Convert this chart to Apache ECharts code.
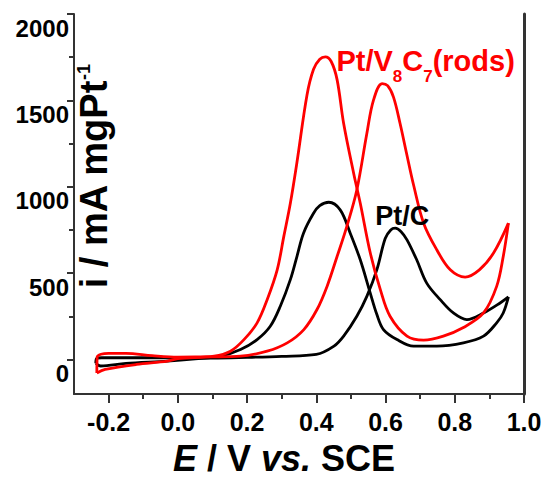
<!DOCTYPE html>
<html>
<head>
<meta charset="utf-8">
<script src="https://cdn.jsdelivr.net/npm/echarts@6/dist/echarts.min.js"></script>
<style>
	html, body { margin: 0; padding: 0; background: #fff; }
	#chart { width: 544px; height: 478px; }
</style>
</head>
<body>
<div id="chart"></div>
<script>
// axis ticks
const potentialTicks = [ -0.2, 0, 0.2, 0.4, 0.6, 0.8, 1.0 ];
const potentialMinorTicks = [ -0.1, 0.1, 0.3, 0.5, 0.7, 0.9 ];
const currentTicks = [ 0, 500, 1000, 1500, 2000 ];
const currentMinorTicks = [ 250, 750, 1250, 1750 ];

// Pt/V8C7(rods), forward scan (E / V, i / mA mgPt-1)
const ptV8C7Forward = [
	[ -0.234, -78 ], [ -0.233, 15 ], [ -0.222, 30 ], [ -0.2, 35 ], [ -0.15, 35 ],
	[ -0.074, 22 ], [ 0.0, 14 ], [ 0.1, 15 ], [ 0.181, 19 ], [ 0.258, 48 ],
	[ 0.316, 96 ], [ 0.364, 173 ], [ 0.402, 289 ], [ 0.431, 423 ], [ 0.46, 596 ],
	[ 0.488, 769 ], [ 0.517, 981 ], [ 0.546, 1308 ], [ 0.565, 1500 ], [ 0.59, 1597 ],
	[ 0.606, 1585 ], [ 0.623, 1519 ], [ 0.642, 1366 ], [ 0.66, 1200 ], [ 0.681, 1010 ],
	[ 0.71, 789 ], [ 0.748, 635 ], [ 0.787, 519 ], [ 0.83, 477 ], [ 0.871, 519 ],
	[ 0.912, 616 ], [ 0.955, 789 ]
];
// Pt/V8C7(rods), backward scan
const ptV8C7Backward = [
	[ 0.955, 789 ], [ 0.94, 596 ], [ 0.921, 423 ], [ 0.883, 269 ], [ 0.825, 185 ],
	[ 0.767, 135 ], [ 0.71, 112 ], [ 0.662, 135 ], [ 0.613, 250 ], [ 0.585, 404 ],
	[ 0.556, 616 ], [ 0.527, 904 ], [ 0.508, 1077 ], [ 0.479, 1366 ], [ 0.46, 1620 ],
	[ 0.443, 1725 ], [ 0.426, 1752 ], [ 0.41, 1738 ], [ 0.392, 1680 ], [ 0.373, 1530 ],
	[ 0.344, 1140 ], [ 0.325, 904 ], [ 0.306, 711 ], [ 0.287, 519 ], [ 0.258, 346 ],
	[ 0.229, 212 ], [ 0.191, 115 ], [ 0.152, 48 ], [ 0.105, 19 ], [ 0.0, 5 ],
	[ -0.03, -10 ], [ -0.12, -29 ], [ -0.21, -58 ], [ -0.234, -78 ]
];
// Pt/C, forward scan
const ptCForward = [
	[ -0.237, -22 ], [ -0.235, 5 ], [ -0.22, 10 ], [ -0.1, 10 ], [ 0.0, 10 ],
	[ 0.1, 8 ], [ 0.2, 12 ], [ 0.3, 18 ], [ 0.4, 29 ], [ 0.451, 77 ],
	[ 0.479, 135 ], [ 0.517, 250 ], [ 0.546, 365 ], [ 0.575, 520 ], [ 0.599, 700 ],
	[ 0.615, 750 ], [ 0.628, 760 ], [ 0.645, 740 ], [ 0.662, 692 ], [ 0.69, 577 ],
	[ 0.719, 442 ], [ 0.758, 346 ], [ 0.796, 269 ], [ 0.835, 231 ], [ 0.883, 269 ],
	[ 0.931, 327 ], [ 0.955, 362 ]
];
// Pt/C, backward scan
const ptCBackward = [
	[ 0.955, 362 ], [ 0.94, 269 ], [ 0.921, 212 ], [ 0.883, 135 ], [ 0.825, 96 ],
	[ 0.748, 77 ], [ 0.681, 77 ], [ 0.633, 115 ], [ 0.594, 173 ], [ 0.575, 260 ],
	[ 0.555, 390 ], [ 0.527, 577 ], [ 0.498, 731 ], [ 0.469, 866 ], [ 0.436, 910 ],
	[ 0.41, 890 ], [ 0.392, 846 ], [ 0.363, 731 ], [ 0.344, 596 ], [ 0.325, 462 ],
	[ 0.296, 308 ], [ 0.267, 192 ], [ 0.229, 115 ], [ 0.181, 58 ], [ 0.123, 19 ],
	[ 0.05, 3 ], [ -0.03, -10 ], [ -0.15, -23 ], [ -0.223, -38 ], [ -0.237, -22 ]
];

// where the curve names sit (E, i)
const ptV8C7LabelAt = [ 0.458, 1700 ];
const ptCLabelAt = [ 0.57, 831 ];

const FONT = 'Liberation Sans, Arial, sans-serif';
const RED = '#ff0000';
const BLACK = '#000000';
const AXIS = '#333333';

function cvSeries( data, color, label ) {
	const s = {
		type: 'line',
		data: data,
		xAxisIndex: 0,
		yAxisIndex: 0,
		smooth: 0.35,
		showSymbol: false,
		symbol: 'none',
		lineStyle: { color: color, width: 2.8 },
		z: color === RED ? 3 : 2
	};
	if ( label ) {
		s.markPoint = {
			symbol: 'circle',
			symbolSize: 0,
			silent: true,
			data: [ { coord: label.at, value: 0 } ],
			label: Object.assign( { show: true, position: 'right', distance: 0 }, label.style )
		};
	}
	return s;
}

const chart = echarts.init( document.getElementById( 'chart' ), null, { renderer: 'svg' } );

chart.setOption( {
	animation: false,
	backgroundColor: '#fff',
	grid: { left: 74, right: 20, top: 14, bottom: 84, outerBoundsMode: 'none' },
	xAxis: [
		{
			type: 'value',
			min: -0.3,
			max: 1.0,
			name: '{i|E}{n| / V }{i|vs.}{n| SCE}',
			nameLocation: 'middle',
			nameGap: 46,
			nameMoveOverlap: false,
			nameTextStyle: {
				padding: [ 0, 30, 0, 0 ],
				rich: {
					i: { fontFamily: FONT, fontSize: 36, fontStyle: 'italic', fontWeight: 'bold', color: BLACK, lineHeight: 36 },
					n: { fontFamily: FONT, fontSize: 36, fontWeight: 'bold', color: BLACK, lineHeight: 36 }
				}
			},
			axisLine: { onZero: false, lineStyle: { color: AXIS, width: 2 } },
			axisTick: { inside: false, length: 9, customValues: potentialTicks, lineStyle: { color: AXIS, width: 2 } },
			axisLabel: {
				customValues: potentialTicks,
				margin: 15,
				fontFamily: FONT,
				fontSize: 25,
				fontWeight: 'bold',
				color: BLACK,
				formatter: ( v ) => v.toFixed( 1 )
			},
			splitLine: { show: false }
		},
		{
			type: 'value',
			min: -0.3,
			max: 1.0,
			position: 'bottom',
			axisLine: { show: false, onZero: false },
			axisTick: { length: 5, customValues: potentialMinorTicks, lineStyle: { color: AXIS, width: 2 } },
			axisLabel: { show: false },
			splitLine: { show: false }
		}
	],
	yAxis: [
		{
			type: 'value',
			min: -200,
			max: 2000,
			position: 'left',
			name: '{a|i / mA mgPt}{s|-1}',
			nameLocation: 'middle',
			nameRotate: 90,
			nameGap: -39,
			nameMoveOverlap: false,
			nameTextStyle: {
				padding: [ 0, 0, 0, 55 ],
				rich: {
					a: { fontFamily: FONT, fontSize: 38, fontWeight: 'bold', color: BLACK, lineHeight: 38, verticalAlign: 'top' },
					s: { fontFamily: FONT, fontSize: 18, fontWeight: 'bold', color: BLACK, lineHeight: 18, verticalAlign: 'top' }
				}
			},
			axisLine: { show: true, onZero: false, lineStyle: { color: AXIS, width: 2 } },
			axisTick: { show: true, length: 7, customValues: currentTicks, lineStyle: { color: AXIS, width: 2 } },
			axisLabel: {
				customValues: currentTicks,
				margin: 5,
				verticalAlign: 'top',
				lineHeight: 28,
				fontFamily: FONT,
				fontSize: 24,
				fontWeight: 'bold',
				color: BLACK,
				formatter: ( v ) => String( v )
			},
			splitLine: { show: false }
		},
		{
			type: 'value',
			min: -200,
			max: 2000,
			position: 'left',
			axisLine: { show: false, onZero: false },
			axisTick: { show: true, length: 5, customValues: currentMinorTicks, lineStyle: { color: AXIS, width: 2 } },
			axisLabel: { show: false },
			splitLine: { show: false }
		},
		{
			type: 'value',
			min: -200,
			max: 2000,
			position: 'right',
			axisLine: { show: true, onZero: false, lineStyle: { color: AXIS, width: 3 } },
			axisTick: { show: false },
			axisLabel: { show: false },
			splitLine: { show: false }
		}
	],
	series: [
		cvSeries( ptCForward, BLACK, {
			at: ptCLabelAt,
			style: {
				formatter: 'Pt/C',
				fontFamily: FONT,
				fontSize: 27,
				fontWeight: 'bold',
				color: BLACK
			}
		} ),
		cvSeries( ptCBackward, BLACK ),
		cvSeries( ptV8C7Forward, RED, {
			at: ptV8C7LabelAt,
			style: {
				formatter: '{a|Pt/V}{s|8}{a|C}{s|7}{a|(rods)}',
				rich: {
					a: { fontFamily: FONT, fontSize: 29, fontWeight: 'bold', color: RED, lineHeight: 29, verticalAlign: 'top' },
					s: { fontFamily: FONT, fontSize: 17, fontWeight: 'bold', color: RED, lineHeight: 38, verticalAlign: 'bottom' }
				}
			}
		} ),
		cvSeries( ptV8C7Backward, RED )
	]
} );
</script>
</body>
</html>
